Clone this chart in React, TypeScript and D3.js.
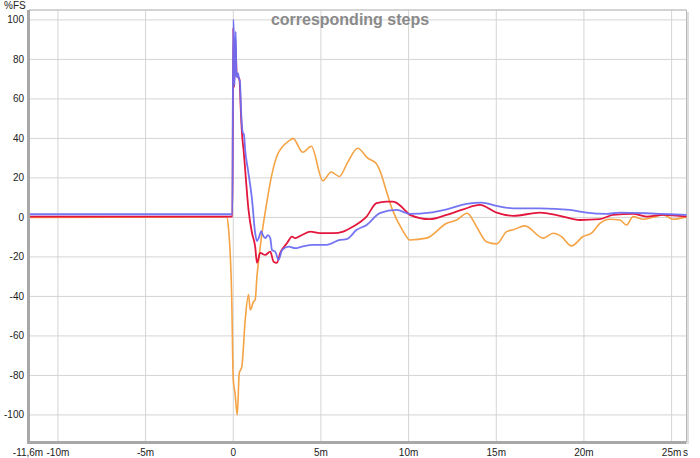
import React from "react";
import * as d3 from "d3";

const W = 700;
const H = 458;

// tick values
const xTicks = [-10, -5, 0, 5, 10, 15, 20, 25];
const xTickLabels = ["-10m", "-5m", "0", "5m", "10m", "15m", "20m", "25m"];
const yTicks = [-100, -80, -60, -40, -20, 0, 20, 40, 60, 80, 100];

// series: time in ms, value in %FS
const blueT = [-11.6, -0.05, 0.0, 0.02, 0.07, 0.14, 0.18, 0.21, 0.27, 0.33, 0.38, 0.44, 0.54, 0.61, 0.68, 0.84, 1.07, 1.25, 1.35, 1.47, 1.6, 1.69, 1.82, 1.98, 2.11, 2.21, 2.39, 2.59, 2.78, 3.16, 3.53, 3.92, 4.56, 5.32, 6.08, 6.47, 7.04, 7.61, 8.36, 9.32, 10.07, 11.21, 12.17, 13.31, 14.16, 15.02, 15.96, 17.49, 19.2, 20.15, 21.29, 22.05, 23.57, 24.9, 25.85];
const blueV = [1.6, 1.6, 100, 100, 67, 94, 72, 71, 73, 70, 69, 55, 43, 42, 34, 24, 9, -8, -12, -10, -7, -9, -10.5, -9, -10.5, -16.5, -17.3, -21.5, -16.5, -14.8, -15.6, -14.8, -13.9, -13.9, -11.4, -11, -6.3, -3.8, 2.2, 3.8, 1.8, 2.4, 4.1, 6.8, 7.5, 5.8, 4.6, 4.6, 3.8, 2.4, 1.8, 2.4, 2.1, 1.6, 1.3];

const redT = [-11.6, -0.05, 0.0, 0.05, 0.12, 0.2, 0.35, 0.45, 0.51, 0.59, 0.68, 0.87, 1.07, 1.25, 1.35, 1.54, 1.82, 2.11, 2.3, 2.49, 2.68, 3.07, 3.35, 3.53, 3.92, 4.4, 4.94, 5.7, 6.27, 6.84, 7.6, 8.17, 8.74, 9.1, 9.28, 9.88, 10.07, 11.21, 12.17, 13.12, 14.06, 15.02, 15.96, 17.49, 18.63, 19.77, 20.91, 21.66, 22.8, 23.57, 24.52, 25.85];
const redV = [0.4, 0.4, 96, 66, 90, 72, 70, 50, 41, 34, 24, 3.8, -8, -14.8, -23, -18, -19, -17.3, -22.4, -23, -18, -13, -9.7, -10.5, -8.9, -7.2, -8, -8, -7.2, -4.6, 0.4, 7.2, 8, 8, 7.5, 2.9, 1.3, -0.9, 1.3, 4.1, 6.3, 2.4, 0.8, 2.4, 0.8, -1.3, -0.9, 1.3, 1.8, 0.4, 1.3, 0.4];

const orangeT = [-11.6, -0.38, -0.28, -0.09, 0.0, 0.1, 0.23, 0.34, 0.49, 0.68, 0.87, 0.97, 1.16, 1.25, 1.35, 1.45, 1.64, 1.92, 2.21, 2.59, 2.66, 3.3, 3.4, 3.97, 4.45, 5.11, 5.58, 6.05, 6.53, 7.1, 7.67, 8.14, 8.42, 8.71, 9.08, 9.64, 10.07, 11.02, 12.17, 12.74, 13.34, 13.87, 14.44, 15.02, 15.59, 15.96, 16.63, 17.68, 18.25, 18.72, 19.29, 19.95, 20.43, 20.91, 21.48, 22.05, 22.43, 22.8, 23.38, 23.95, 24.52, 25.09, 25.85];
const orangeV = [0, 0.2, -4.6, -40, -82, -89, -100, -79, -75.5, -52, -39, -46.8, -42.6, -41.8, -30, -21.5, -8, 8, 22, 33, 34, 39.5, 40, 33, 36, 18.6, 23, 20.7, 28, 35, 30, 27.4, 22.4, 14, 3.8, -6.3, -11.4, -10.5, -3, -1.3, 2.1, -4.6, -12.3, -13.4, -7.2, -6.3, -4.3, -10.5, -8, -9.7, -14.4, -9.7, -8, -3, -0.9, -1.3, -3.8, 0.4, -0.9, 0.1, 1.3, -0.9, 0.4];

const LEFT = 29;
const RIGHT = 686.5;
const TOP = 10;
const BOTTOM = 442;

export default function App() {
  const x = d3.scaleLinear().domain([-11.65, 25.85]).range([LEFT, RIGHT]);
  const y = d3.scaleLinear().domain([-113.7, 105]).range([BOTTOM, TOP]);

  const mk = (t: number[], v: number[]) =>
    d3
      .line<number>()
      .x((_, i) => x(t[i]))
      .y((d) => y(d))
      .curve(d3.curveMonotoneX)(v) || "";

  const font = "Liberation Sans, Arial, sans-serif";

  return (
    <svg
      width={W}
      height={H}
      style={{ position: "absolute", left: 0, top: 0, background: "#fff" }}
    >
      <rect x={0} y={0} width={W} height={H} fill="#fff" />
      {/* grid */}
      {xTicks.map((t) => (
        <line key={"gx" + t} x1={x(t)} x2={x(t)} y1={TOP} y2={BOTTOM} stroke="#d4d4d4" strokeWidth={1} />
      ))}
      {yTicks.map((t) => (
        <line key={"gy" + t} x1={LEFT} x2={RIGHT} y1={y(t)} y2={y(t)} stroke="#d4d4d4" strokeWidth={1} />
      ))}
      {/* frame */}
      <line x1={LEFT} x2={RIGHT} y1={TOP} y2={TOP} stroke="#c4c4c4" strokeWidth={1.5} />
      <line x1={RIGHT} x2={RIGHT} y1={TOP} y2={BOTTOM} stroke="#b8b8b8" strokeWidth={1} />
      <line x1={RIGHT + 1.5} x2={RIGHT + 1.5} y1={TOP + 2} y2={BOTTOM + 2} stroke="#dedede" strokeWidth={2} />
      {/* title */}
      <text x={350} y={25} textAnchor="middle" fontFamily={font} fontWeight="bold" fontSize={16} fill="#8a8a8a">
        corresponding steps
      </text>
      {/* series */}
      <path d={mk(orangeT, orangeV)} fill="none" stroke="#f5a345" strokeWidth={1.6} />
      <path d={mk(redT, redV)} fill="none" stroke="#e3173d" strokeWidth={1.8} />
      <path d={mk(blueT, blueV)} fill="none" stroke="#6e6ef2" strokeWidth={1.8} strokeOpacity={0.95} />
      {/* axes */}
      <line x1={LEFT - 0.5} x2={LEFT - 0.5} y1={TOP} y2={BOTTOM + 1.5} stroke="#a8a8a8" strokeWidth={3} />
      <line x1={LEFT - 2} x2={RIGHT} y1={BOTTOM + 0.5} y2={BOTTOM + 0.5} stroke="#a8a8a8" strokeWidth={3} />
      {/* y labels */}
      {yTicks.map((t) => (
        <text key={"yl" + t} x={24} y={y(t) + 3.5} textAnchor="end" fontFamily={font} fontSize={10} fill="#222">
          {t}
        </text>
      ))}
      <text x={4} y={9} fontFamily={font} fontSize={10} fill="#222">%FS</text>
      {/* x labels */}
      <text x={x(-11.65) - 1} y={456} textAnchor="middle" fontFamily={font} fontSize={10} fill="#222">-11,6m</text>
      {xTicks.map((t, i) => (
        <text key={"xl" + t} x={x(t)} y={456} textAnchor="middle" fontFamily={font} fontSize={10} fill="#222">
          {xTickLabels[i]}
        </text>
      ))}
      <text x={683} y={456} fontFamily={font} fontSize={10} fill="#222">s</text>
    </svg>
  );
}
